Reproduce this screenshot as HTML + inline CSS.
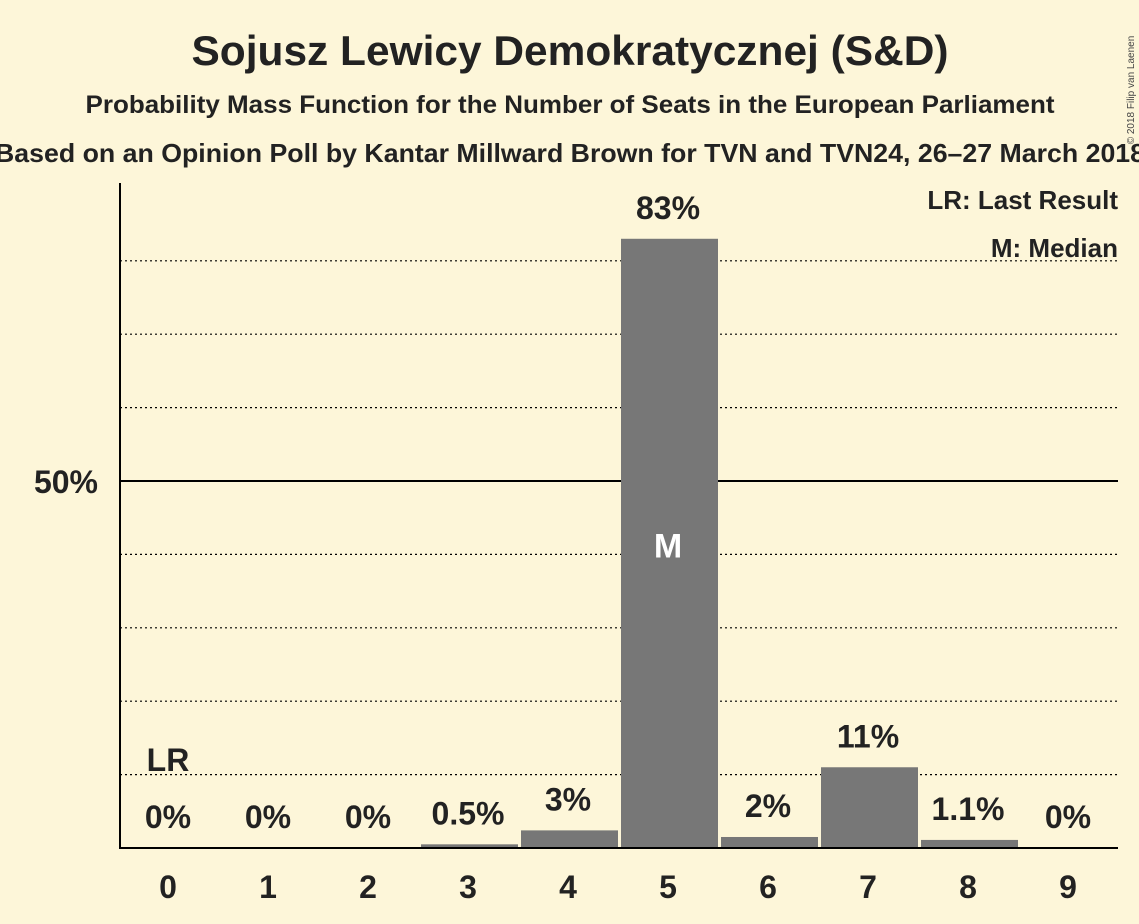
<!DOCTYPE html>
<html><head><meta charset="utf-8"><style>
body{margin:0;background:#FDF6D9;}
svg{display:block;font-family:"Liberation Sans",sans-serif;}
</style></head><body>
<svg width="1139" height="924" viewBox="0 0 1139 924">
<rect width="1139" height="924" fill="#FDF6D9"/>
<text x="570" y="65" text-anchor="middle" font-size="42" font-weight="bold" fill="#222" textLength="757" lengthAdjust="spacingAndGlyphs">Sojusz Lewicy Demokratycznej (S&amp;D)</text>
<text x="570" y="113" text-anchor="middle" font-size="25" font-weight="bold" fill="#222" textLength="969" lengthAdjust="spacingAndGlyphs">Probability Mass Function for the Number of Seats in the European Parliament</text>
<text x="570" y="162" text-anchor="middle" font-size="26" font-weight="bold" fill="#222" textLength="1150" lengthAdjust="spacingAndGlyphs">Based on an Opinion Poll by Kantar Millward Brown for TVN and TVN24, 26–27 March 2018</text>
<text transform="translate(1134,90) rotate(-90)" text-anchor="middle" font-size="10" fill="#444">© 2018 Filip van Laenen</text>
<g id="grid"></g>
<g id="bars"></g>
<g id="labels"></g>
<line x1="120" y1="183" x2="120" y2="848" stroke="#000" stroke-width="2"/>
<line x1="119" y1="848" x2="1118" y2="848" stroke="#000" stroke-width="2"/>
<text x="98" y="493" text-anchor="end" font-size="32" font-weight="bold" fill="#222">50%</text>
<text x="1118" y="209" text-anchor="end" font-size="26" font-weight="bold" fill="#222">LR: Last Result</text>
<text x="1118" y="257" text-anchor="end" font-size="26" font-weight="bold" fill="#222">M: Median</text>
<script>
const categories=["0","1","2","3","4","5","6","7","8","9"];
const values=[0,0,0,0.5,2.4,83,1.5,11,1.1,0];
const printed=["0%","0%","0%","0.5%","3%","83%","2%","11%","1.1%","0%"];
const gridTicks=[10,20,30,40,60,70,80];
const medianIndex=5, lastResultIndex=0;
const NS="http://www.w3.org/2000/svg";
function y(v){return 848-v*7.34;}
function x(i){return 120+i*100;}
function mk(t,a,p){const e=document.createElementNS(NS,t);for(const k in a)e.setAttribute(k,a[k]);p.appendChild(e);return e;}
const grid=document.getElementById('grid'),bars=document.getElementById('bars'),labels=document.getElementById('labels');
gridTicks.forEach(t=>{const l=mk('line',{x1:120,x2:1118,y1:y(t),y2:y(t),stroke:'#000','stroke-width':1.2,'stroke-dasharray':'2,3'},grid);

});
const fl=mk('line',{x1:120,x2:1118,y1:y(50),y2:y(50),stroke:'#000','stroke-width':2},grid);


categories.forEach((c,i)=>{
 const v=values[i];
 if(v>0){const r=mk('rect',{x:x(i)+1,y:y(v),width:97,height:848-y(v),fill:'#777'},bars);
 
 }
 const cx=x(i)+48;
 const lt=mk('text',{x:cx,y:Math.min(y(v)-20,828),'text-anchor':'middle','font-size':32,'font-weight':'bold',fill:'#222'},labels);
 lt.textContent=printed[i];
 
 
 const xt=mk('text',{x:cx,y:898,'text-anchor':'middle','font-size':32,'font-weight':'bold',fill:'#222'},labels);
 xt.textContent=c;
 
 
});
const m=mk('text',{x:x(medianIndex)+48,y:(y(values[medianIndex])+848)/2+14,'text-anchor':'middle','font-size':34,'font-weight':'bold',fill:'#fff'},labels);
m.textContent='M';


const lr=mk('text',{x:x(lastResultIndex)+48,y:771,'text-anchor':'middle','font-size':32,'font-weight':'bold',fill:'#222'},labels);
lr.textContent='LR';


</script>
</svg>
</body></html>
